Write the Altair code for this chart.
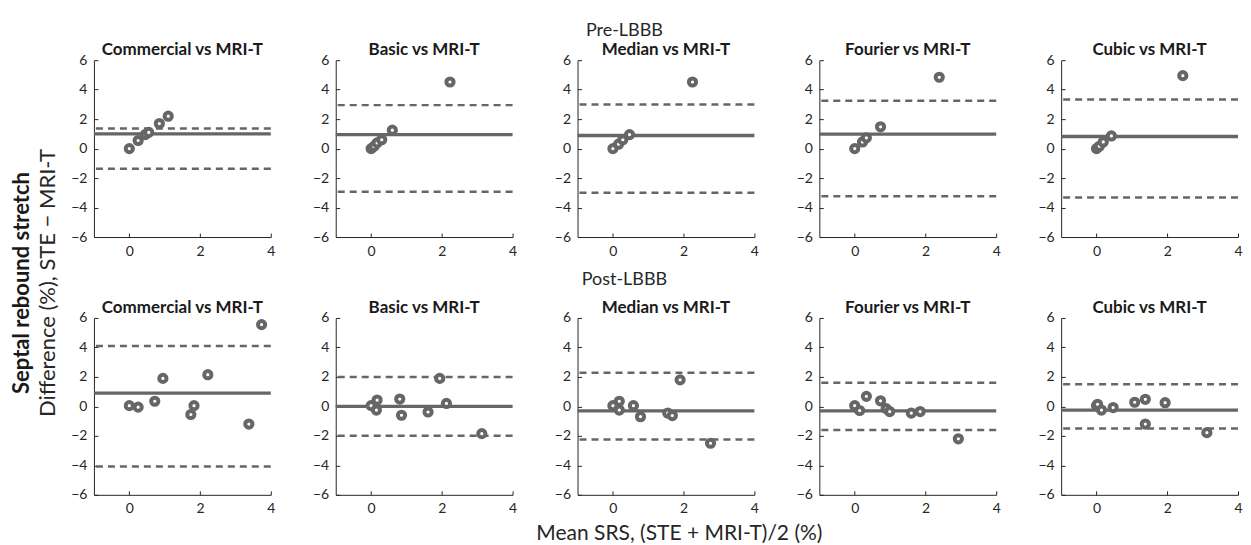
import altair as alt
import pandas as pd

methods = ["Commercial", "Basic", "Median", "Fourier", "Cubic"]

# Pre-LBBB points (mean SRS, difference)
pre_commercial_x = [0.0, 0.25, 0.45, 0.55, 0.85, 1.1]
pre_commercial_y = [0.0, 0.55, 0.95, 1.1, 1.7, 2.2]
pre_basic_x = [0.0, 0.08, 0.17, 0.3, 0.6, 2.23]
pre_basic_y = [0.0, 0.15, 0.39, 0.6, 1.25, 4.52]
pre_median_x = [0.0, 0.16, 0.28, 0.47, 2.25]
pre_median_y = [0.0, 0.3, 0.6, 0.95, 4.52]
pre_fourier_x = [0.0, 0.22, 0.33, 0.73, 2.39]
pre_fourier_y = [0.0, 0.45, 0.73, 1.48, 4.84]
pre_cubic_x = [0.0, 0.08, 0.19, 0.42, 2.44]
pre_cubic_y = [0.0, 0.16, 0.45, 0.86, 4.95]
pre_mean = [1.0, 0.95, 0.89, 0.98, 0.82]
pre_upper = [1.36, 2.95, 3.0, 3.25, 3.34]
pre_lower = [-1.36, -2.93, -3.0, -3.23, -3.32]

# Post-LBBB points
post_commercial_x = [0.0, 0.25, 0.72, 0.95, 1.74, 1.83, 2.22, 3.38, 3.74]
post_commercial_y = [0.05, -0.05, 0.35, 1.9, -0.55, 0.05, 2.15, -1.2, 5.55]
post_basic_x = [0.0, 0.17, 0.15, 0.81, 0.86, 1.61, 1.94, 2.13, 3.13]
post_basic_y = [0.05, 0.43, -0.25, 0.5, -0.6, -0.38, 1.9, 0.2, -1.85]
post_median_x = [0.0, 0.18, 0.18, 0.58, 0.78, 1.55, 1.68, 1.9, 2.76]
post_median_y = [0.05, 0.35, -0.25, 0.05, -0.7, -0.45, -0.62, 1.8, -2.5]
post_fourier_x = [0.0, 0.14, 0.33, 0.73, 0.89, 0.99, 1.6, 1.85, 2.93]
post_fourier_y = [0.05, -0.28, 0.68, 0.38, -0.15, -0.35, -0.45, -0.35, -2.2]
post_cubic_x = [0.0, 0.03, 0.14, 0.47, 1.08, 1.38, 1.38, 1.94, 3.12]
post_cubic_y = [0.05, 0.14, -0.25, -0.08, 0.28, 0.48, -1.2, 0.25, -1.78]
post_mean = [0.9, 0.0, -0.3, -0.3, -0.25]
post_upper = [4.1, 2.0, 2.28, 1.6, 1.5]
post_lower = [-4.07, -2.0, -2.25, -1.6, -1.5]

pre_x = [pre_commercial_x, pre_basic_x, pre_median_x, pre_fourier_x, pre_cubic_x]
pre_y = [pre_commercial_y, pre_basic_y, pre_median_y, pre_fourier_y, pre_cubic_y]
post_x = [post_commercial_x, post_basic_x, post_median_x, post_fourier_x, post_cubic_x]
post_y = [post_commercial_y, post_basic_y, post_median_y, post_fourier_y, post_cubic_y]

x_ticks = [0, 2, 4]
y_ticks = [-6, -4, -2, 0, 2, 4, 6]

FONT = "Lato"
GRAY = "#666666"
DARK = "#262626"
W = 177
H = 177


def panel(name, xs, ys, mean, up, lo):
    pts = pd.DataFrame({"x": xs, "y": ys})
    xscale = alt.Scale(domain=[-1, 4], nice=False, zero=False)
    yscale = alt.Scale(domain=[-6, 6], nice=False, zero=False)
    xaxis = alt.Axis(values=x_ticks, title=None)
    yaxis = alt.Axis(values=y_ticks, title=None)
    ydef = alt.Y("y:Q", scale=yscale, axis=yaxis)
    mean_rule = alt.Chart(pd.DataFrame({"y": [mean]})).mark_rule(
        color=GRAY, strokeWidth=3.3).encode(y=ydef)
    loa_rule = alt.Chart(pd.DataFrame({"y": [up, lo]})).mark_rule(
        color=GRAY, strokeWidth=2.5, strokeDash=[7, 5]).encode(y=ydef)
    points = alt.Chart(pts).mark_point(
        shape="circle", filled=False, fill="white", fillOpacity=1,
        stroke=GRAY, strokeWidth=4, size=52, opacity=1).encode(
        x=alt.X("x:Q", scale=xscale, axis=xaxis), y=ydef)
    return alt.layer(mean_rule, loa_rule, points).properties(
        width=W, height=H,
        title=alt.TitleParams(f"{name} vs MRI-T", font=FONT, fontSize=17,
                              fontWeight="bold", color="#1a1a1a", offset=-6))


row_title = dict(font=FONT, fontSize=18, fontWeight="normal", color=DARK,
                 anchor="middle", dx=-32)

row1 = alt.hconcat(*[
    panel(m, pre_x[i], pre_y[i], pre_mean[i], pre_upper[i], pre_lower[i])
    for i, m in enumerate(methods)
], spacing=36).properties(title=alt.TitleParams("Pre-LBBB", offset=1, **row_title))

row2 = alt.hconcat(*[
    panel(m, post_x[i], post_y[i], post_mean[i], post_upper[i], post_lower[i])
    for i, m in enumerate(methods)
], spacing=36).properties(title=alt.TitleParams("Post-LBBB", offset=10, **row_title))

rows = alt.vconcat(row1, row2, spacing=13).properties(
    title=alt.TitleParams("Mean SRS, (STE + MRI-T)/2 (%)", orient="bottom",
                          anchor="middle", font=FONT, fontSize=21,
                          fontWeight="normal", color=DARK, offset=7, dx=23))

chart = alt.vconcat(rows).properties(
    title=alt.TitleParams("Septal rebound stretch",
                          subtitle="Difference (%), STE \u2212 MRI-T",
                          orient="left", anchor="middle", font=FONT,
                          fontSize=22, fontWeight="bold", color="#1a1a1a",
                          subtitleFont=FONT, subtitleFontSize=22,
                          subtitleColor=DARK, subtitlePadding=4, offset=11),
    padding={"left": 2, "top": 14, "right": 0, "bottom": 0}
).configure_view(stroke=None).configure_axis(
    grid=False, domainColor=DARK, domainWidth=1, tickColor=DARK,
    tickSize={"expr": "-4"}, tickWidth=1, labelColor=DARK, labelFont=FONT,
    labelFontSize=14, labelPadding=11
).configure_axisX(labelFlush=False).configure_axisY(labelFlush=False)

chart.save("out.html", embed_options={"renderer": "svg", "actions": False})
